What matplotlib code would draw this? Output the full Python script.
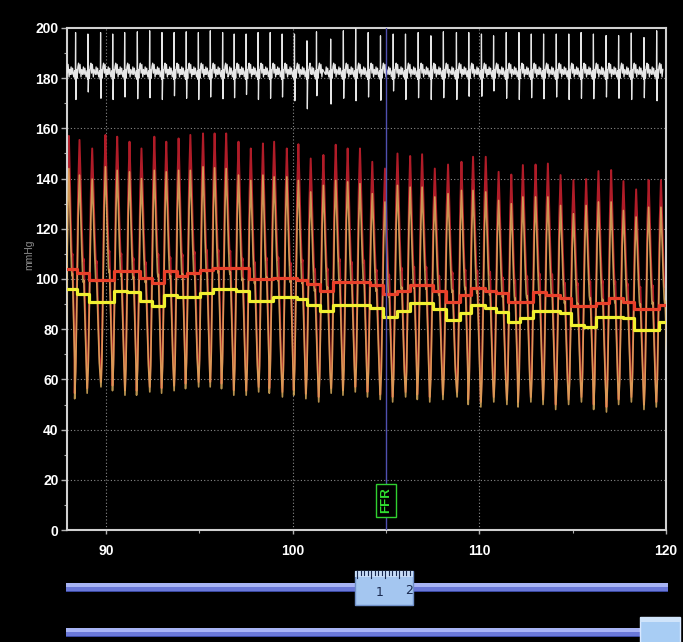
import numpy as np
import matplotlib
matplotlib.use('Agg')
import matplotlib.pyplot as plt
from matplotlib.patches import Rectangle

# ---------------- data ----------------
x_ticks = [90, 100, 110, 120]
y_ticks = list(range(0, 201, 20))
y_label = "mmHg"
marker_t = 105.0
marker_text = "FFR"

# pressure beats: time of systolic peak (s)
beat_peak_t = [88.0, 88.57, 89.25, 89.96, 90.59, 91.25, 91.89, 92.58, 93.22, 93.88,
               94.51, 95.19, 95.81, 96.43, 97.09, 97.75, 98.40, 99.00, 99.68, 100.30,
               100.96, 101.64, 102.30, 102.94, 103.60, 104.26, 104.94, 105.61, 106.29, 106.93,
               107.61, 108.32, 109.04, 109.66, 110.34, 111.03, 111.71, 112.33, 113.01, 113.67,
               114.35, 115.04, 115.72, 116.38, 117.06, 117.72, 118.40, 119.07, 119.73]
aortic_sys = [157.0, 155.4, 152.0, 157.4, 156.7, 154.7, 152.0, 156.7, 154.7, 156.0,
              157.4, 158.0, 158.0, 158.0, 154.7, 152.0, 154.0, 154.7, 152.0, 153.7,
              148.0, 149.4, 153.5, 152.0, 152.0, 146.7, 144.0, 150.0, 149.0, 149.7,
              144.0, 145.6, 146.7, 148.7, 148.7, 142.7, 141.6, 145.4, 145.6, 146.0,
              141.4, 139.4, 139.8, 143.0, 143.4, 139.0, 135.7, 139.4, 139.4]
aortic_dia = [57.0, 54.5, 56.5, 59.0, 57.5, 55.7, 55.5, 57.0, 56.5, 57.5,
              58.3, 59.0, 59.0, 58.3, 55.7, 55.5, 57.0, 56.5, 55.0, 55.7,
              54.3, 53.0, 56.5, 55.7, 57.0, 55.0, 54.0, 53.0, 55.0, 54.0,
              53.0, 54.0, 55.0, 52.0, 51.0, 53.0, 52.0, 51.0, 53.0, 52.0,
              50.0, 52.0, 53.0, 50.0, 49.0, 52.0, 53.0, 50.0, 51.0]
distal_sys = [144.0, 141.4, 139.8, 144.7, 143.3, 142.7, 140.0, 143.3, 142.7, 143.3,
              143.3, 144.7, 144.3, 144.0, 141.4, 139.3, 141.4, 140.7, 140.7, 139.3,
              134.7, 137.3, 139.3, 138.7, 138.0, 134.0, 130.7, 137.3, 136.6, 136.6,
              132.7, 134.0, 135.3, 135.3, 134.7, 131.3, 130.0, 132.7, 132.7, 132.7,
              129.3, 126.0, 129.3, 130.7, 130.7, 127.3, 124.7, 128.6, 128.6]
distal_dia = [55.0, 52.3, 54.5, 57.0, 55.5, 53.7, 53.7, 55.0, 54.5, 55.5,
              56.3, 57.0, 57.0, 56.3, 53.7, 53.7, 55.0, 54.5, 53.0, 53.7,
              52.3, 51.0, 54.5, 53.7, 55.0, 53.0, 52.0, 51.0, 53.0, 52.0,
              51.0, 52.0, 53.0, 50.0, 49.0, 51.0, 50.0, 49.0, 51.0, 50.0,
              48.0, 50.0, 51.0, 48.0, 47.0, 50.0, 51.0, 48.0, 49.0]
# one pressure beat, sampled: fraction of beat interval from the foot, and level (0=foot, 1=peak)
pw_frac = [0.0, 0.08, 0.18, 0.28, 0.38, 0.46, 0.56, 0.64, 0.68, 0.72, 0.82, 0.92]
pw_level = [0.0, 0.12, 0.45, 0.82, 1.0, 0.86, 0.66, 0.54, 0.52, 0.53, 0.33, 0.14]

# mean pressures (step lines): change times and values
aortic_mean_t = [87.9, 88.43, 89.07, 90.41, 91.83, 92.46, 93.08, 93.79, 94.33, 95.04,
                 95.75, 97.63, 98.96, 100.2, 100.74, 101.45, 102.16, 104.12, 104.85, 105.56,
                 106.27, 107.52, 108.23, 108.95, 109.57, 110.28, 110.91, 111.53, 112.87, 113.58,
                 114.3, 114.92, 116.26, 116.97, 117.68, 118.31, 119.65, 120.1]
aortic_mean_v = [103.9, 102.5, 99.5, 103.0, 100.5, 98.3, 103.0, 101.2, 102.5, 103.5,
                 104.4, 99.9, 100.5, 99.5, 98.2, 95.2, 98.9, 97.6, 94.1, 95.3,
                 97.5, 95.3, 91.0, 93.5, 96.5, 95.3, 94.5, 90.9, 94.9, 93.5,
                 92.6, 89.2, 90.6, 92.4, 91.0, 88.2, 89.8, 89.8]
distal_mean_t = [87.9, 88.43, 89.07, 90.41, 91.12, 91.83, 92.46, 93.08, 93.79, 95.04,
                 95.75, 96.93, 97.63, 98.96, 100.2, 100.74, 101.45, 102.16, 104.12, 104.85,
                 105.56, 106.27, 107.52, 108.23, 108.95, 109.57, 110.28, 110.91, 111.53, 112.2,
                 112.87, 114.3, 114.92, 115.63, 116.26, 117.68, 118.31, 119.65, 120.1]
distal_mean_v = [96.1, 94.2, 91.0, 95.2, 94.7, 91.3, 89.3, 93.5, 92.8, 94.5,
                 96.1, 95.3, 91.2, 93.0, 92.0, 89.8, 87.1, 89.8, 88.6, 84.7,
                 87.3, 90.3, 88.0, 83.5, 86.3, 89.6, 88.5, 86.8, 82.7, 84.3,
                 87.3, 86.3, 81.8, 80.7, 85.0, 84.3, 79.5, 82.7, 82.7]

# ECG (drawn on the same mmHg scale): R-wave times, R tops, S troughs
ecg_baseline = 181.5
ecg_r_t = [87.72, 88.36, 89.02, 89.70, 90.35, 90.99, 91.67, 92.33, 92.99, 93.64,
           94.29, 94.94, 95.58, 96.24, 96.86, 97.50, 98.14, 98.79, 99.43, 100.09,
           100.76, 101.27, 102.03, 102.71, 103.37, 104.04, 104.70, 105.38, 106.04, 106.72,
           107.40, 108.07, 108.77, 109.43, 110.11, 110.76, 111.44, 112.12, 112.78, 113.44,
           114.12, 114.79, 115.45, 116.11, 116.79, 117.46, 118.14, 118.82, 119.50]
ecg_r = [198.0, 198.2, 197.6, 198.2, 197.6, 198.2, 198.5, 198.9, 198.2, 198.2,
         198.5, 198.2, 198.9, 198.2, 197.6, 197.6, 198.2, 198.2, 197.6, 197.6,
         194.9, 198.5, 195.6, 198.9, 200.9, 198.2, 196.9, 197.6, 197.6, 198.2,
         196.9, 198.5, 198.2, 198.2, 197.6, 196.9, 198.2, 198.2, 197.6, 197.6,
         197.6, 197.6, 198.2, 197.6, 197.0, 197.0, 198.0, 196.2, 198.9]
ecg_s = [172.0, 171.5, 174.5, 172.0, 171.5, 172.5, 171.8, 172.2, 171.5, 173.0,
         172.0, 171.5, 172.5, 171.8, 172.2, 173.5, 171.5, 172.0, 172.5, 171.0,
         167.8, 173.0, 169.7, 172.0, 171.0, 172.5, 171.2, 174.9, 171.5, 172.2,
         171.5, 172.2, 171.5, 172.8, 172.8, 174.9, 172.0, 171.5, 172.2, 171.8,
         172.5, 171.5, 172.0, 171.8, 172.5, 172.0, 171.5, 172.2, 171.0]
# one ECG complex around its R wave: offsets (s) and levels above the baseline
ecg_pre_dt = [-0.28, -0.24, -0.20, -0.16, -0.10, -0.05, -0.015]
ecg_pre_v = [0.0, 3.0, 0.0, 2.5, -1.0, 1.5, -2.0]
ecg_post_dt = [0.045, 0.08, 0.12, 0.16, 0.20, 0.24, 0.29, 0.33]
ecg_post_v = [2.0, -1.5, 3.0, 4.5, 0.5, 4.0, -1.0, 2.0]

# ---------------- build traces ----------------
PEAK_FRAC = pw_frac[pw_level.index(1.0)]

def pressure_trace(peaks, sys_v, dia_v):
    ts, vs = [], []
    n = len(peaks)
    for i in range(n):
        dt = (peaks[i + 1] - peaks[i]) if i < n - 1 else (peaks[i] - peaks[i - 1])
        foot = peaks[i] - PEAK_FRAC * dt
        for f, lv in zip(pw_frac, pw_level):
            ts.append(foot + f * dt)
            vs.append(dia_v[i] + lv * (sys_v[i] - dia_v[i]))
    return np.array(ts), np.array(vs)

def ecg_trace():
    ts, vs = [], []
    n = len(ecg_r_t)
    for i in range(n):
        t0 = ecg_r_t[i]
        nxt = ecg_r_t[i + 1] + ecg_pre_dt[0] if i < n - 1 else t0 + 1.0
        for d, v in zip(ecg_pre_dt, ecg_pre_v):
            if not ts or t0 + d > ts[-1]:
                ts.append(t0 + d); vs.append(ecg_baseline + v)
        ts.append(t0); vs.append(ecg_r[i])
        ts.append(t0 + 0.02); vs.append(ecg_s[i])
        for d, v in zip(ecg_post_dt, ecg_post_v):
            if t0 + d < nxt - 0.01:
                ts.append(t0 + d); vs.append(ecg_baseline + v)
    return np.array(ts), np.array(vs)

ao_t, ao_v = pressure_trace(beat_peak_t, aortic_sys, aortic_dia)
pd_t, pd_v = pressure_trace(beat_peak_t, distal_sys, distal_dia)
ecg_t, ecg_v = ecg_trace()

# ---------------- figure ----------------
W, H = 683, 642
fig = plt.figure(figsize=(W / 100, H / 100), dpi=100, facecolor='black')
ax = fig.add_axes([67 / W, 1 - 530 / H, (666 - 67) / W, (530 - 28) / H])
ax.set_facecolor('black')
ax.set_xlim(87.9, 120.0)
ax.set_ylim(0, 200)

# grid
for yv in y_ticks[1:-1]:
    ax.axhline(yv, color='#8a8a8a', lw=0.8, ls=(0, (1, 2)), zorder=1)
for xv in x_ticks[:-1]:
    ax.axvline(xv, color='#8a8a8a', lw=0.8, ls=(0, (1, 2)), zorder=1)

# traces
ax.plot(ao_t, ao_v, color='#b01c28', lw=1.4, zorder=2)
ax.plot(pd_t, pd_v, color='#e6b862', lw=1.2, alpha=0.8, zorder=3)
ax.plot(ecg_t, ecg_v, color='#e6e6e6', lw=0.9, zorder=4)
ax.plot(aortic_mean_t, aortic_mean_v, color='#e8402a', lw=2.3, drawstyle='steps-post', zorder=5)
ax.plot(distal_mean_t, distal_mean_v, color='#f0f030', lw=2.3, drawstyle='steps-post', zorder=6)

# FFR marker
ax.axvline(marker_t, color='#5050b0', lw=1.0, zorder=7)
ax.text(marker_t, 11.8, marker_text, rotation=90, ha='center', va='center',
        color='#30e030', fontsize=9.5, fontweight='bold', family='Liberation Sans',
        bbox=dict(boxstyle='square,pad=0.3', fc='black', ec='#30d030', lw=1.0), zorder=8)

# axes styling
for s in ax.spines.values():
    s.set_color('#d0d0d0')
    s.set_linewidth(1.5)
ax.set_xticks(x_ticks)
ax.set_xticks([95, 105, 115], minor=True)
ax.set_yticks(y_ticks)
ax.set_yticks(list(range(10, 200, 20)), minor=True)
ax.tick_params(axis='both', which='both', colors='#b0b0b0', direction='out')
ax.tick_params(axis='y', which='major', length=4, width=1, pad=2)
ax.tick_params(axis='y', which='minor', length=2.5, width=0.8)
ax.tick_params(axis='x', which='major', length=3, width=1, pad=7)
ax.tick_params(axis='x', which='minor', length=2, width=0.8)
for lab in ax.get_xticklabels() + ax.get_yticklabels():
    lab.set_color('white')
    lab.set_fontweight('bold')
    lab.set_fontsize(10)
    lab.set_family('Liberation Sans')
fig.text(29 / W, 1 - 255 / H, y_label, rotation=90, ha='center', va='center',
         color='#8c8c8c', fontsize=7.5, family='Liberation Sans')

# ---------------- slider decorations (pixel overlay) ----------------
ov = fig.add_axes([0, 0, 1, 1])
ov.set_xlim(0, W)
ov.set_ylim(H, 0)
ov.axis('off')
ov.patch.set_visible(False)

def bar(y0, y1):
    ov.add_patch(Rectangle((66, y0), 602, y1 - y0, fc='#6a78d8', ec='none'))
    ov.add_patch(Rectangle((66, y0), 602, (y1 - y0) * 0.4, fc='#a8b4f4', ec='none'))
    ov.add_patch(Rectangle((66, y1 - 1.5), 602, 1.5, fc='#3a48a0', ec='none'))

bar(583, 592)
bar(628, 637)

# ruler handle
ov.add_patch(Rectangle((355, 571), 58, 34, fc='#a4c6f0', ec='#7090c8', lw=1))
ov.add_patch(Rectangle((355, 571), 58, 6, fc='#c8ddf8', ec='none'))
for k in range(16):
    xk = 357 + k * 3.5
    ln = 7 if k % 4 == 0 else 4
    ov.plot([xk, xk], [571, 571 + ln], color='#1a2a50', lw=0.8)
ov.text(380, 592, "1", ha='center', va='center', color='#1a2a50', fontsize=9)
ov.text(409, 590, "2", ha='center', va='center', color='#1a2a50', fontsize=9)

# second handle
ov.add_patch(Rectangle((640, 617), 40, 28, fc='#a8cdf4', ec='#d8e8ff', lw=1))
ov.add_patch(Rectangle((640, 617), 40, 5, fc='#d0e4fa', ec='none'))

fig.savefig('out.png', dpi=100, facecolor='black')
